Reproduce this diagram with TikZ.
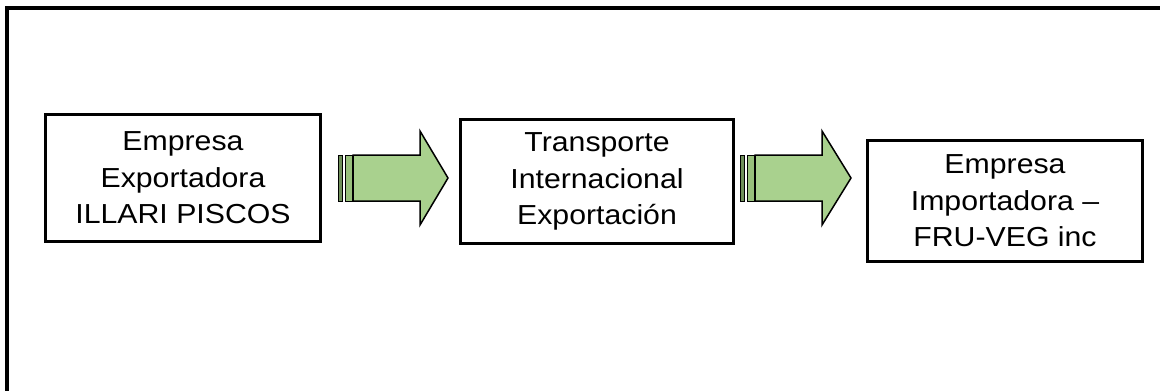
\documentclass[tikz,border=0pt]{standalone}
\usepackage{fontspec}
\setmainfont{Liberation Sans}[FakeStretch=1.1]
\usepackage{tikz}
\definecolor{arrowgreen}{HTML}{A9D18E}
\definecolor{stripdark}{HTML}{6F8F5A}
\definecolor{striplight}{HTML}{98C07C}
\tikzset{
  firm/.style={draw=black, line width=3.5pt, align=center, inner sep=0pt,
    font=\fontsize{27.5}{36.5}\selectfont},
  blockarrow/.style={draw=black, line width=1.5pt, fill=arrowgreen, line join=miter},
  strip/.style={draw=black, line width=1pt}
}

\begin{document}
\begin{tikzpicture}[x=1pt,y=-1pt]
\useasboundingbox (0,0) rectangle (1160,391);
% frame
\draw[line width=4pt] (7,391) -- (7,8) -- (1160,8);
% boxes
\node[firm, minimum width=275pt, minimum height=127pt] (exp) at (183,178) {Empresa\\Exportadora\\ILLARI PISCOS};
\node[firm, minimum width=273pt, minimum height=124pt] (trans) at (597,181.5) {Transporte\\Internacional\\Exportación};
\node[firm, minimum width=275pt, minimum height=121pt] (imp) at (1005,201) {Empresa\\Importadora --\\FRU-VEG inc};
% arrows
\coordinate (a1) at (338,178);
\coordinate (a2) at (740,178);
\draw[strip, fill=stripdark] ([yshift=23pt]a1) rectangle ++(4,46);
\draw[strip, fill=striplight] ([xshift=7pt,yshift=23pt]a1) rectangle ++(7,46);
\draw[blockarrow] ([xshift=15pt,yshift=23pt]a1) -- ++(67,0) -- ++(0,-24) -- ([xshift=110pt]a1) -- ++(-28,47) -- ++(0,-24) -- ++(-67,0) -- cycle;
\draw[strip, fill=stripdark] ([yshift=23pt]a2) rectangle ++(4,46);
\draw[strip, fill=striplight] ([xshift=7pt,yshift=23pt]a2) rectangle ++(7,46);
\draw[blockarrow] ([xshift=15pt,yshift=23pt]a2) -- ++(67,0) -- ++(0,-24) -- ([xshift=111pt]a2) -- ++(-29,47) -- ++(0,-24) -- ++(-67,0) -- cycle;
\end{tikzpicture}
\end{document}
